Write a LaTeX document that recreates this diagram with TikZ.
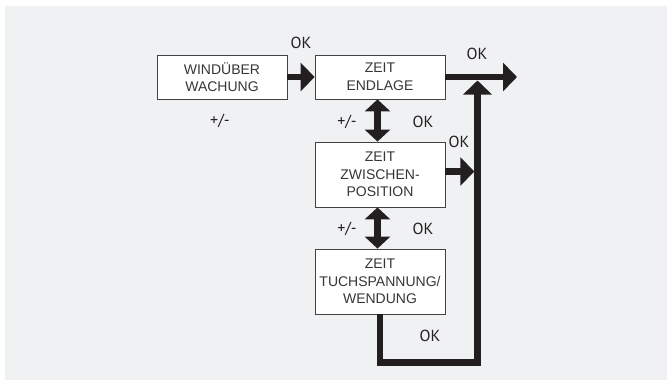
\documentclass[tikz,border=0pt]{standalone}
\usepackage{fontspec}
\usetikzlibrary{arrows.meta, positioning}
\newfontfamily\boxfont{Liberation Sans}
\newfontfamily\labfont{PT Sans}
\definecolor{bggray}{RGB}{240,241,243}
\definecolor{ink}{RGB}{35,31,32}

\begin{document}
\begin{tikzpicture}[x=1pt, y=-1pt,
    stepbox/.style={draw=ink!85, line width=0.8pt, fill=white,
        minimum width=130pt, inner sep=0pt, align=center,
        font=\boxfont\fontsize{14}{17.5}\selectfont, text=ink!90},
    fat/.style={draw=ink, line width=6.5pt},
    fathead/.style={-{Triangle[length=14pt, width=28pt]}},
    dblhead/.style={{Triangle[length=12pt, width=25pt]}-{Triangle[length=12pt, width=25pt]}},
    lbl/.style={font=\labfont\fontsize{16}{19}\selectfont, text=ink}]
  \useasboundingbox (0,0) rectangle (667,380);
  \fill[bggray] (5,6) rectangle (667,380);

  % Step boxes
  \node[stepbox, minimum height=44pt] (wind) at (222,77) {WINDÜBER\\WACHUNG};
  \node[stepbox, minimum height=44pt] (endlage) at (380,77) {ZEIT\\ENDLAGE};
  \node[stepbox, minimum height=65pt] (zwischen) at (380,174.5) {ZEIT\\ZWISCHEN-\\POSITION};
  \node[stepbox, minimum height=65pt] (tuch) at (380,281.5) {ZEIT\\TUCHSPANNUNG/\\WENDUNG};

  % Free ends of the connectors
  \coordinate (out) at (517,77);
  \coordinate (rail) at (474.3,171.5);
  \coordinate (corner) at (477.5,362.5);
  \coordinate (join) at (477.5,80.5);

  % Forward arrows
  \draw[fat, fathead] (wind) -- (endlage);
  \draw[fat, fathead] (endlage) -- (out);
  \draw[fat, fathead] (zwischen.east |- rail) -- (rail);
  \draw[fat, fathead] (tuch.south) |- (corner) -- (join);

  % Up/down between the steps
  \draw[fat, dblhead] ([xshift=-2.5pt]endlage.south) -- ([xshift=-2.5pt]zwischen.north);
  \draw[fat, dblhead] ([xshift=-2.5pt]zwischen.south) -- ([xshift=-2.5pt]tuch.north);

  % Key labels
  \node[lbl] (ok1) at (301,43) {OK};
  \node[lbl] (pm1) at (220,121) {+/-};
  \node[lbl] (ok2) at (477,54) {OK};
  \node[lbl] (pm2) at (347,122) {+/-};
  \node[lbl] (ok3) at (423,122) {OK};
  \node[lbl] (ok4) at (459,142) {OK};
  \node[lbl] (pm3) at (347,229) {+/-};
  \node[lbl] (ok5) at (423,229) {OK};
  \node[lbl] (ok6) at (430,336) {OK};
\end{tikzpicture}
\end{document}
